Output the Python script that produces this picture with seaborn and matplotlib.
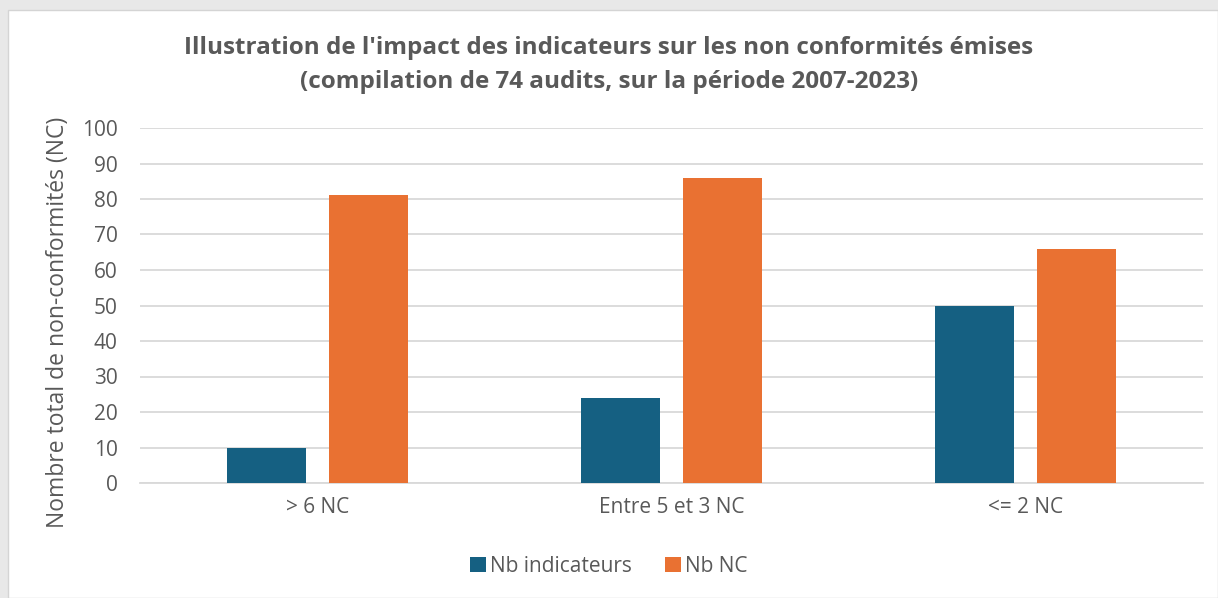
import pandas as pd
import matplotlib.pyplot as plt
import matplotlib.patches as mpatches
import seaborn as sns

# Données
categories = ['> 6 NC', 'Entre 5 et 3 NC', '<= 2 NC']
nb_indicateurs = [10, 24, 50]
nb_nc = [81, 86, 66]
series = ['Nb indicateurs', 'Nb NC']
couleurs = ['#156082', '#E97132']

df = pd.DataFrame({
    'Categorie': categories * 2,
    'Serie': [series[0]] * 3 + [series[1]] * 3,
    'Valeur': nb_indicateurs + nb_nc,
})

sns.set_theme(style='white')
plt.rcParams['font.family'] = ['Open Sans', 'DejaVu Sans']
gris = '#595959'

fig = plt.figure(figsize=(12.18, 5.98), dpi=100)
fig.patch.set_facecolor('#e8e8e8')
# panneau blanc du graphique
fig.patches.append(mpatches.Rectangle((8 / 1218, 0), 1 - 8 / 1218, 1 - 10 / 598,
                                      transform=fig.transFigure, facecolor='white',
                                      edgecolor='#d4d4d4', linewidth=1.0, zorder=-5))

ax = fig.add_axes([140 / 1218, 1 - 483 / 598, 1063 / 1218, 355 / 598])
ax.set_facecolor('none')
sns.barplot(data=df, x='Categorie', y='Valeur', hue='Serie', palette=couleurs,
            saturation=1, width=0.575, gap=0.226, linewidth=0, ax=ax, zorder=3)

ax.set_xlim(-0.5, 2.5)
ax.set_ylim(0, 100)
ax.set_yticks(range(0, 101, 10))
ax.yaxis.grid(True, color='#d9d9d9', linewidth=1.3, zorder=0)
ax.set_axisbelow(True)
for s in ['top', 'right', 'left']:
    ax.spines[s].set_visible(False)
ax.spines['bottom'].set_color('#d9d9d9')
ax.spines['bottom'].set_linewidth(1.3)
ax.tick_params(axis='both', length=0, labelsize=15, labelcolor=gris)
ax.tick_params(axis='y', pad=16)
ax.tick_params(axis='x', pad=10)
ax.set_xlabel('')
ax.set_ylabel('Nombre total de non-conformités (NC)', fontsize=16.5, color=gris)
ax.yaxis.set_label_coords(-0.066, 0.453)

fig.text(0.5, 1 - 65 / 598,
         "Illustration de l'impact des indicateurs sur les non conformités émises\n"
         "(compilation de 74 audits, sur la période 2007-2023)",
         ha='center', va='center', fontsize=17.5, fontweight='bold', color=gris,
         linespacing=1.5)

handles, labels = ax.get_legend_handles_labels()
ax.legend(handles, labels, loc='center', bbox_to_anchor=(0.5, 1 - 566 / 598),
          bbox_transform=fig.transFigure, ncol=2, frameon=False, fontsize=15,
          labelcolor=gris, handlelength=0.75, handleheight=0.75, handletextpad=0.2,
          columnspacing=1.6)

fig.savefig('out.png', dpi=100, facecolor=fig.get_facecolor())
